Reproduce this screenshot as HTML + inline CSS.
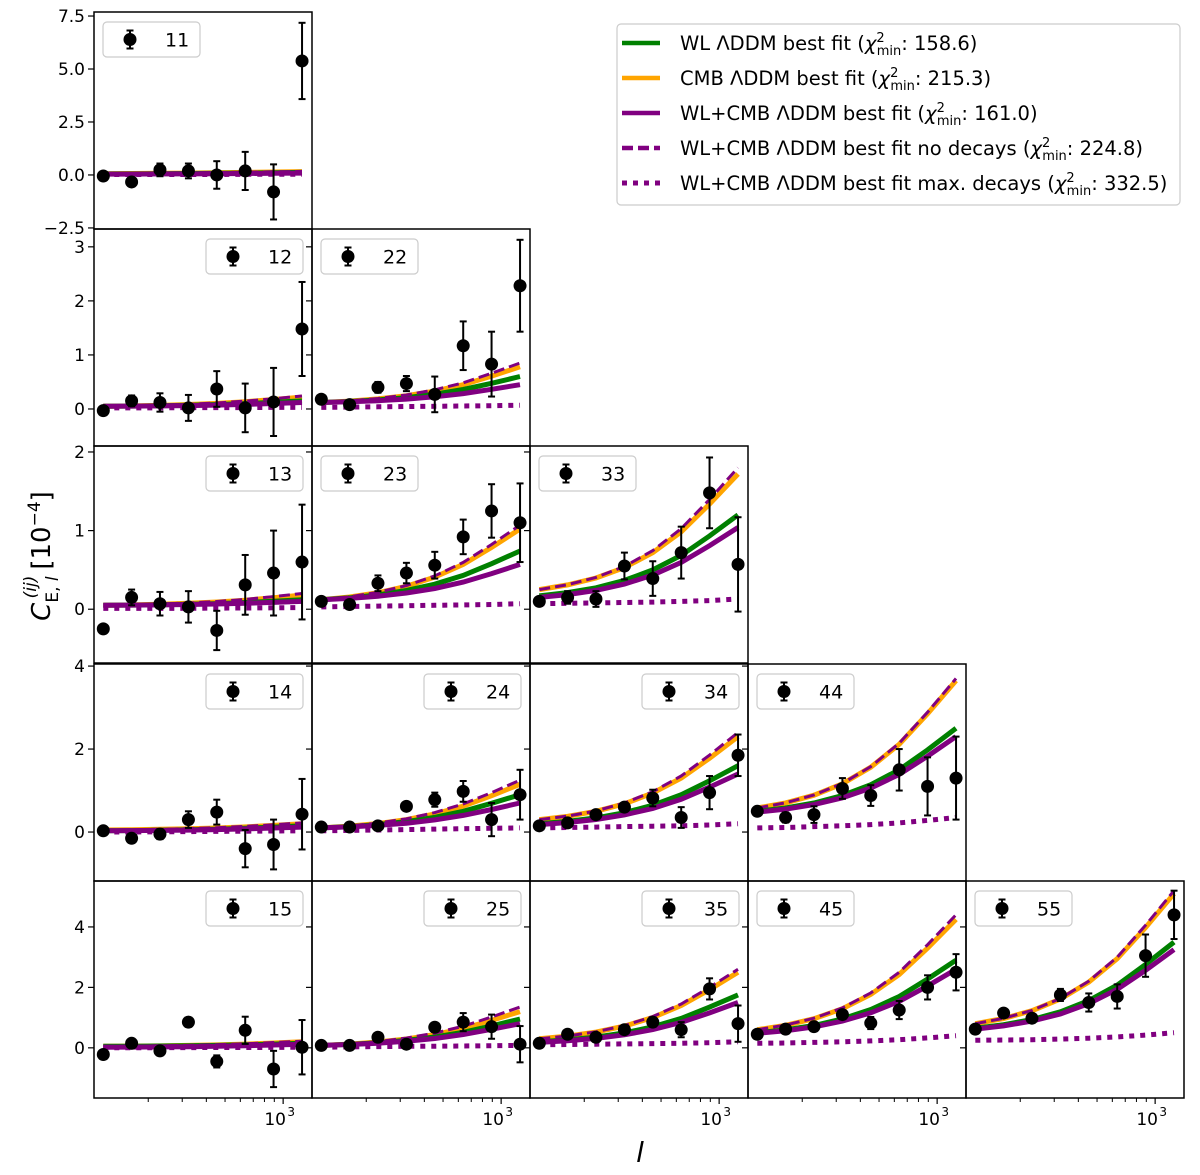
<!DOCTYPE html>
<html><head><meta charset="utf-8">
<style>
html,body{margin:0;padding:0;background:#fff;}
svg{display:block;font-family:"DejaVu Sans","Liberation Sans",sans-serif;}
</style></head>
<body>
<svg id="chart" width="1200" height="1175" viewBox="0 0 1200 1175" xmlns="http://www.w3.org/2000/svg"></svg>
<script>
// ---- data ----
const ells = [117,164,230,323,453,636,892,1253];
const rowTicks0 = [-2.5,0,2.5,5,7.5];
const rowTicks1 = [0,1,2,3];
const rowTicks2 = [0,1,2];
const rowTicks3 = [0,2,4];
const rowTicks4 = [0,2,4];
const rowLim0 = [-2.55,7.69];
const rowLim1 = [-0.685,3.33];
const rowLim2 = [-0.684,2.076];
const rowLim3 = [-1.18,4.05];
const rowLim4 = [-1.66,5.52];

const obs_11=[-0.05,-0.33,0.24,0.19,0,0.19,-0.8,5.38], err_11=[0.1,0.1,0.3,0.35,0.65,0.9,1.3,1.8];
const wl_11=[0.05,0.05,0.06,0.07,0.08,0.09,0.1,0.12], cmb_11=[0.06,0.07,0.08,0.09,0.1,0.12,0.14,0.16], wlcmb_11=[0.04,0.04,0.05,0.05,0.06,0.07,0.08,0.09], nodec_11=[0.07,0.08,0.09,0.1,0.11,0.13,0.15,0.17], maxdec_11=[0.02,0.02,0.02,0.02,0.02,0.03,0.03,0.03];

const obs_12=[-0.03,0.15,0.12,0.02,0.37,0.02,0.13,1.48], err_12=[0.03,0.1,0.17,0.24,0.33,0.45,0.63,0.87];
const wl_12=[0.05,0.054,0.06,0.069,0.082,0.1,0.124,0.15], cmb_12=[0.05,0.057,0.067,0.082,0.104,0.135,0.176,0.22], wlcmb_12=[0.05,0.053,0.057,0.063,0.072,0.085,0.102,0.12], nodec_12=[0.05,0.058,0.069,0.086,0.111,0.145,0.191,0.24], maxdec_12=[0.02,0.02,0.02,0.025,0.025,0.025,0.03,0.03];

const obs_22=[0.18,0.08,0.4,0.47,0.27,1.17,0.83,2.28], err_22=[0.04,0.08,0.1,0.14,0.33,0.45,0.6,0.85];
const wl_22=[0.12,0.139,0.168,0.211,0.274,0.36,0.475,0.6], cmb_22=[0.12,0.146,0.186,0.245,0.331,0.45,0.608,0.78], wlcmb_22=[0.12,0.133,0.153,0.183,0.226,0.285,0.364,0.45], nodec_22=[0.12,0.149,0.193,0.259,0.354,0.485,0.66,0.85], maxdec_22=[0.03,0.035,0.04,0.045,0.05,0.055,0.06,0.07];

const obs_13=[-0.25,0.15,0.07,0.03,-0.27,0.31,0.46,0.6], err_13=[0.04,0.1,0.15,0.2,0.25,0.38,0.54,0.73];
const wl_13=[0.05,0.053,0.057,0.063,0.072,0.085,0.102,0.12], cmb_13=[0.05,0.055,0.063,0.075,0.092,0.115,0.146,0.18], wlcmb_13=[0.05,0.052,0.055,0.06,0.066,0.075,0.087,0.1], nodec_13=[0.05,0.056,0.065,0.079,0.098,0.125,0.161,0.2], maxdec_13=[0.01,0.01,0.01,0.012,0.014,0.016,0.018,0.02];

const obs_23=[0.1,0.06,0.33,0.46,0.56,0.92,1.25,1.1], err_23=[0.03,0.05,0.1,0.13,0.17,0.22,0.34,0.5];
const wl_23=[0.12,0.145,0.182,0.238,0.318,0.43,0.579,0.74], cmb_23=[0.12,0.156,0.21,0.291,0.408,0.57,0.786,1.02], wlcmb_23=[0.12,0.138,0.165,0.206,0.264,0.345,0.453,0.57], nodec_23=[0.12,0.158,0.215,0.301,0.424,0.595,0.823,1.07], maxdec_23=[0.03,0.035,0.04,0.045,0.05,0.055,0.06,0.07];

const obs_33=[0.1,0.15,0.13,0.55,0.39,0.72,1.48,0.57], err_33=[0.03,0.08,0.1,0.17,0.22,0.33,0.45,0.6];
const wl_33=[0.17,0.211,0.273,0.366,0.5,0.685,0.932,1.2], cmb_33=[0.25,0.309,0.397,0.529,0.72,0.985,1.338,1.72], wlcmb_33=[0.15,0.186,0.239,0.319,0.435,0.595,0.809,1.04], nodec_33=[0.25,0.312,0.405,0.545,0.746,1.025,1.397,1.8], maxdec_33=[0.07,0.075,0.08,0.085,0.09,0.1,0.11,0.13];

const obs_14=[0.03,-0.15,-0.05,0.3,0.48,-0.4,-0.3,0.43], err_14=[0.03,0.05,0.12,0.2,0.3,0.45,0.6,0.85];
const wl_14=[0.03,0.035,0.042,0.053,0.068,0.09,0.119,0.15], cmb_14=[0.05,0.056,0.065,0.079,0.098,0.125,0.161,0.2], wlcmb_14=[0.03,0.034,0.039,0.047,0.059,0.075,0.097,0.12], nodec_14=[0.05,0.057,0.067,0.082,0.104,0.135,0.176,0.22], maxdec_14=[0,0,0.005,0.01,0.015,0.02,0.025,0.03];

const obs_24=[0.12,0.12,0.15,0.62,0.78,0.98,0.3,0.9], err_24=[0.04,0.05,0.06,0.1,0.17,0.25,0.4,0.6];
const wl_24=[0.1,0.132,0.18,0.252,0.356,0.5,0.692,0.9], cmb_24=[0.1,0.142,0.205,0.3,0.436,0.625,0.877,1.15], wlcmb_24=[0.1,0.124,0.16,0.214,0.292,0.4,0.544,0.7], nodec_24=[0.1,0.146,0.215,0.319,0.468,0.675,0.951,1.25], maxdec_24=[0.03,0.04,0.05,0.06,0.07,0.08,0.09,0.1];

const obs_34=[0.15,0.22,0.42,0.6,0.82,0.35,0.95,1.85], err_34=[0.03,0.04,0.05,0.08,0.2,0.25,0.4,0.5];
const wl_34=[0.2,0.256,0.34,0.466,0.648,0.9,1.236,1.6], cmb_34=[0.3,0.38,0.5,0.68,0.94,1.3,1.78,2.3], wlcmb_34=[0.18,0.229,0.302,0.412,0.57,0.79,1.083,1.4], nodec_34=[0.3,0.384,0.51,0.699,0.972,1.35,1.854,2.4], maxdec_34=[0.1,0.11,0.12,0.13,0.14,0.15,0.17,0.2];

const obs_44=[0.5,0.35,0.42,1.05,0.88,1.5,1.1,1.3], err_44=[0.05,0.12,0.2,0.25,0.25,0.5,0.7,1.0];
const wl_44=[0.5,0.58,0.7,0.88,1.14,1.5,1.98,2.5], cmb_44=[0.58,0.703,0.887,1.163,1.562,2.115,2.852,3.65], wlcmb_44=[0.48,0.553,0.662,0.826,1.062,1.39,1.827,2.3], nodec_44=[0.58,0.705,0.892,1.173,1.578,2.14,2.889,3.7], maxdec_44=[0.1,0.11,0.13,0.15,0.18,0.22,0.28,0.35];

const obs_15=[-0.22,0.15,-0.1,0.85,-0.45,0.58,-0.7,0.02], err_15=[0.03,0.05,0.05,0.15,0.2,0.45,0.6,0.9];
const wl_15=[0.05,0.054,0.06,0.069,0.082,0.1,0.124,0.15], cmb_15=[0.05,0.056,0.065,0.079,0.098,0.125,0.161,0.2], wlcmb_15=[0.02,0.024,0.03,0.039,0.052,0.07,0.094,0.12], nodec_15=[0.05,0.057,0.067,0.082,0.104,0.135,0.176,0.22], maxdec_15=[0,0,0.005,0.008,0.01,0.012,0.015,0.02];

const obs_25=[0.08,0.08,0.35,0.12,0.68,0.85,0.7,0.12], err_25=[0.03,0.05,0.05,0.05,0.15,0.3,0.4,0.6];
const wl_25=[0.08,0.115,0.167,0.245,0.358,0.515,0.724,0.95], cmb_25=[0.08,0.125,0.192,0.293,0.438,0.64,0.909,1.2], wlcmb_25=[0.08,0.109,0.152,0.217,0.31,0.44,0.613,0.8], nodec_25=[0.08,0.131,0.207,0.321,0.486,0.715,1.02,1.35], maxdec_25=[0.02,0.03,0.04,0.05,0.055,0.06,0.07,0.08];

const obs_35=[0.15,0.45,0.35,0.6,0.85,0.6,1.95,0.8], err_35=[0.03,0.04,0.05,0.1,0.15,0.25,0.35,0.6];
const wl_35=[0.2,0.262,0.355,0.495,0.696,0.975,1.347,1.75], cmb_35=[0.3,0.388,0.52,0.718,1.004,1.4,1.928,2.5], wlcmb_35=[0.18,0.233,0.312,0.431,0.602,0.84,1.157,1.5], nodec_35=[0.3,0.392,0.53,0.737,1.036,1.45,2.002,2.6], maxdec_35=[0.1,0.11,0.12,0.13,0.14,0.15,0.17,0.2];

const obs_45=[0.45,0.62,0.7,1.1,0.82,1.25,2.0,2.5], err_45=[0.05,0.07,0.1,0.1,0.2,0.3,0.4,0.6];
const wl_45=[0.5,0.596,0.74,0.956,1.268,1.7,2.276,2.9], cmb_45=[0.6,0.746,0.965,1.294,1.768,2.425,3.301,4.25], wlcmb_45=[0.48,0.565,0.692,0.883,1.158,1.54,2.049,2.6], nodec_45=[0.6,0.752,0.98,1.322,1.816,2.5,3.412,4.4], maxdec_45=[0.15,0.16,0.18,0.2,0.23,0.27,0.33,0.4];

const obs_55=[0.62,1.15,0.98,1.75,1.5,1.7,3.05,4.4], err_55=[0.06,0.08,0.12,0.2,0.3,0.4,0.7,0.8];
const wl_55=[0.65,0.764,0.935,1.192,1.562,2.075,2.759,3.5], cmb_55=[0.8,0.972,1.23,1.617,2.176,2.95,3.982,5.1], wlcmb_55=[0.62,0.725,0.883,1.12,1.462,1.935,2.566,3.25], nodec_55=[0.8,0.976,1.24,1.636,2.208,3.0,4.056,5.2], maxdec_55=[0.25,0.26,0.27,0.29,0.32,0.36,0.42,0.5];

const panels = [
 {id:'11',r:0,c:0,left:true, obs:obs_11,err:err_11,wl:wl_11,cmb:cmb_11,wlcmb:wlcmb_11,nodec:nodec_11,maxdec:maxdec_11},
 {id:'12',r:1,c:0,left:false,obs:obs_12,err:err_12,wl:wl_12,cmb:cmb_12,wlcmb:wlcmb_12,nodec:nodec_12,maxdec:maxdec_12},
 {id:'22',r:1,c:1,left:true, obs:obs_22,err:err_22,wl:wl_22,cmb:cmb_22,wlcmb:wlcmb_22,nodec:nodec_22,maxdec:maxdec_22},
 {id:'13',r:2,c:0,left:false,obs:obs_13,err:err_13,wl:wl_13,cmb:cmb_13,wlcmb:wlcmb_13,nodec:nodec_13,maxdec:maxdec_13},
 {id:'23',r:2,c:1,left:true, obs:obs_23,err:err_23,wl:wl_23,cmb:cmb_23,wlcmb:wlcmb_23,nodec:nodec_23,maxdec:maxdec_23},
 {id:'33',r:2,c:2,left:true, obs:obs_33,err:err_33,wl:wl_33,cmb:cmb_33,wlcmb:wlcmb_33,nodec:nodec_33,maxdec:maxdec_33},
 {id:'14',r:3,c:0,left:false,obs:obs_14,err:err_14,wl:wl_14,cmb:cmb_14,wlcmb:wlcmb_14,nodec:nodec_14,maxdec:maxdec_14},
 {id:'24',r:3,c:1,left:false,obs:obs_24,err:err_24,wl:wl_24,cmb:cmb_24,wlcmb:wlcmb_24,nodec:nodec_24,maxdec:maxdec_24},
 {id:'34',r:3,c:2,left:false,obs:obs_34,err:err_34,wl:wl_34,cmb:cmb_34,wlcmb:wlcmb_34,nodec:nodec_34,maxdec:maxdec_34},
 {id:'44',r:3,c:3,left:true, obs:obs_44,err:err_44,wl:wl_44,cmb:cmb_44,wlcmb:wlcmb_44,nodec:nodec_44,maxdec:maxdec_44},
 {id:'15',r:4,c:0,left:false,obs:obs_15,err:err_15,wl:wl_15,cmb:cmb_15,wlcmb:wlcmb_15,nodec:nodec_15,maxdec:maxdec_15},
 {id:'25',r:4,c:1,left:false,obs:obs_25,err:err_25,wl:wl_25,cmb:cmb_25,wlcmb:wlcmb_25,nodec:nodec_25,maxdec:maxdec_25},
 {id:'35',r:4,c:2,left:false,obs:obs_35,err:err_35,wl:wl_35,cmb:cmb_35,wlcmb:wlcmb_35,nodec:nodec_35,maxdec:maxdec_35},
 {id:'45',r:4,c:3,left:true, obs:obs_45,err:err_45,wl:wl_45,cmb:cmb_45,wlcmb:wlcmb_45,nodec:nodec_45,maxdec:maxdec_45},
 {id:'55',r:4,c:4,left:true, obs:obs_55,err:err_55,wl:wl_55,cmb:cmb_55,wlcmb:wlcmb_55,nodec:nodec_55,maxdec:maxdec_55}
];
const rowTicks=[rowTicks0,rowTicks1,rowTicks2,rowTicks3,rowTicks4];
const rowLims=[rowLim0,rowLim1,rowLim2,rowLim3,rowLim4];
const xMajor=[1000];
const xMinor=[200,300,400,500,600,700,800,900];

// ---- layout ----
const colLeft=[94,312,530,748,966], rowTop=[12,229,446,664,881], PW=218, PH=217;
const LOGL=2.02, DEC=193;
const NS='http://www.w3.org/2000/svg';
const svg=document.getElementById('chart');
function mk(tag,attrs,parent){const e=document.createElementNS(NS,tag);for(const k in attrs)e.setAttribute(k,attrs[k]);(parent||svg).appendChild(e);return e;}
function xs(c,ell){return colLeft[c]+(Math.log10(ell)-LOGL)*DEC;}
function ys(r,v){const l=rowLims[r];return rowTop[r]+PH-(v-l[0])/(l[1]-l[0])*PH;}
function fmt(r,v){if(r===0){const s=v.toFixed(1);return s.replace('-','\u2212');}return String(v);}

panels.forEach(p=>{
  const g=mk('g',{});
  
  
  const x0=colLeft[p.c], y0=rowTop[p.r];
  const clipId='clip'+p.id;
  const cp=mk('clipPath',{id:clipId},g); mk('rect',{x:x0,y:y0,width:PW,height:PH},cp);
  const plot=mk('g',{'clip-path':'url(#'+clipId+')'},g);
  const series=[
    {k:'cmb',col:'#ffa500',w:5,dash:null,name:'cmb-best-fit-line'},
    {k:'wl',col:'#008000',w:5,dash:null,name:'wl-best-fit-line'},
    {k:'wlcmb',col:'#800080',w:5,dash:null,name:'wl-cmb-best-fit-line'},
    {k:'nodec',col:'#800080',w:3,dash:'11,5',name:'no-decays-line'},
    {k:'maxdec',col:'#800080',w:5,dash:'5,6',name:'max-decays-line'}
  ];
  series.forEach(s=>{
    const d=p[s.k].map((v,i)=>(i?'L':'M')+xs(p.c,ells[i]).toFixed(1)+','+ys(p.r,v).toFixed(1)).join(' ');
    const pa=mk('path',{d:d,fill:'none',stroke:s.col,'stroke-width':s.w},plot);
    if(s.dash)pa.setAttribute('stroke-dasharray',s.dash);
    
    
  });
  p.obs.forEach((v,i)=>{
    const x=xs(p.c,ells[i]), y=ys(p.r,v), e=p.err[i];
    const gg=mk('g',{},plot);
    
    
    const y1=ys(p.r,v+e), y2=ys(p.r,v-e);
    mk('line',{x1:x,x2:x,y1:y1,y2:y2,stroke:'#000','stroke-width':2},gg);
    mk('line',{x1:x-3.5,x2:x+3.5,y1:y1,y2:y1,stroke:'#000','stroke-width':2},gg);
    mk('line',{x1:x-3.5,x2:x+3.5,y1:y2,y2:y2,stroke:'#000','stroke-width':2},gg);
    mk('circle',{cx:x,cy:y,r:6.5,fill:'#000'},gg);
  });
  const fr=mk('rect',{x:x0,y:y0,width:PW,height:PH,fill:'none',stroke:'#000','stroke-width':1.5},g);
  
  
  rowTicks[p.r].forEach(t=>{
    const y=ys(p.r,t);
    mk('line',{x1:x0-6,x2:x0,y1:y,y2:y,stroke:'#000','stroke-width':1.2},g);
    if(p.c===0){
      const tx=mk('text',{x:x0-9,y:y+6,'text-anchor':'end','font-size':17,fill:'#000'},g);
      tx.textContent=fmt(p.r,t);
      
      
    }
  });
  if(p.r===4){
    const yb=y0+PH;
    xMinor.forEach(m=>{const x=xs(p.c,m);mk('line',{x1:x,x2:x,y1:yb,y2:yb+4,stroke:'#000','stroke-width':1},g);});
    xMajor.forEach(m=>{
      const x=xs(p.c,m);mk('line',{x1:x,x2:x,y1:yb,y2:yb+6,stroke:'#000','stroke-width':1.2},g);
      const tx=mk('text',{x:x-8,y:yb+27,'text-anchor':'middle','font-size':17,fill:'#000'},g);
      tx.textContent='10';
      
      
      const sp=mk('text',{x:x+8,y:yb+18,'text-anchor':'middle','font-size':12,fill:'#000'},g);
      sp.textContent='3';
    });
  }
  const lw=97, lh=35;
  const lx=p.left? x0+9 : x0+PW-9-lw, ly=y0+10;
  const lg=mk('g',{},g);
  
  
  mk('rect',{x:lx,y:ly,width:lw,height:lh,rx:4,fill:'#fff','fill-opacity':0.8,stroke:'#cccccc','stroke-width':1.2},lg);
  const mx=lx+27, my=ly+lh/2;
  mk('line',{x1:mx,x2:mx,y1:my-9,y2:my+9,stroke:'#000','stroke-width':2},lg);
  mk('line',{x1:mx-3.5,x2:mx+3.5,y1:my-9,y2:my-9,stroke:'#000','stroke-width':2},lg);
  mk('line',{x1:mx-3.5,x2:mx+3.5,y1:my+9,y2:my+9,stroke:'#000','stroke-width':2},lg);
  mk('circle',{cx:mx,cy:my,r:6.5,fill:'#000'},lg);
  const lt=mk('text',{x:lx+62,y:my+7,'font-size':19,fill:'#000'},lg);
  lt.textContent=p.id;
});

const yl=mk('text',{transform:'translate(50,556) rotate(-90)','text-anchor':'middle','font-size':26,fill:'#000'});


yl.innerHTML='<tspan font-style="italic">C</tspan><tspan font-size="17" dy="8">E, </tspan><tspan font-size="17" font-style="italic">l</tspan><tspan font-size="17" dx="-22" dy="-22" font-style="italic">(ij)</tspan><tspan dy="14" dx="6">[10</tspan><tspan font-size="17" dy="-10">\u22124</tspan><tspan dy="10">]</tspan>';
const xl=mk('text',{x:640,y:1162,'text-anchor':'middle','font-size':28,'font-style':'italic',fill:'#000'});
xl.textContent='l';



const legendLabels=['WL \u039BDDM best fit (','CMB \u039BDDM best fit (','WL+CMB \u039BDDM best fit (','WL+CMB \u039BDDM best fit no decays (','WL+CMB \u039BDDM best fit max. decays ('];
const legendChi=['158.6','215.3','161.0','224.8','332.5'];
const legendColors=['#008000','#ffa500','#800080','#800080','#800080'];
const legendDash=[null,null,null,'11,5','5,6'];
const L=mk('g',{});


mk('rect',{x:617,y:24,width:563,height:181,rx:4,fill:'#fff',stroke:'#cccccc','stroke-width':1.2},L);
legendLabels.forEach((lab,i)=>{
  const y=43+i*35;
  const ln=mk('line',{x1:622,x2:660,y1:y,y2:y,stroke:legendColors[i],'stroke-width':legendDash[i]==='5,6'?5:4.5},L);
  if(legendDash[i])ln.setAttribute('stroke-dasharray',legendDash[i]);
  
  
  const t=mk('text',{x:680,y:y+7,'font-size':19.5,fill:'#000'},L);
  
  
  t.innerHTML=lab+'<tspan font-style="italic">\u03C7</tspan><tspan font-size="13" dy="-8">2</tspan><tspan font-size="13" dx="-8" dy="13">min</tspan><tspan dy="-5">: '+legendChi[i]+')</tspan>';
});
</script>
</body></html>
